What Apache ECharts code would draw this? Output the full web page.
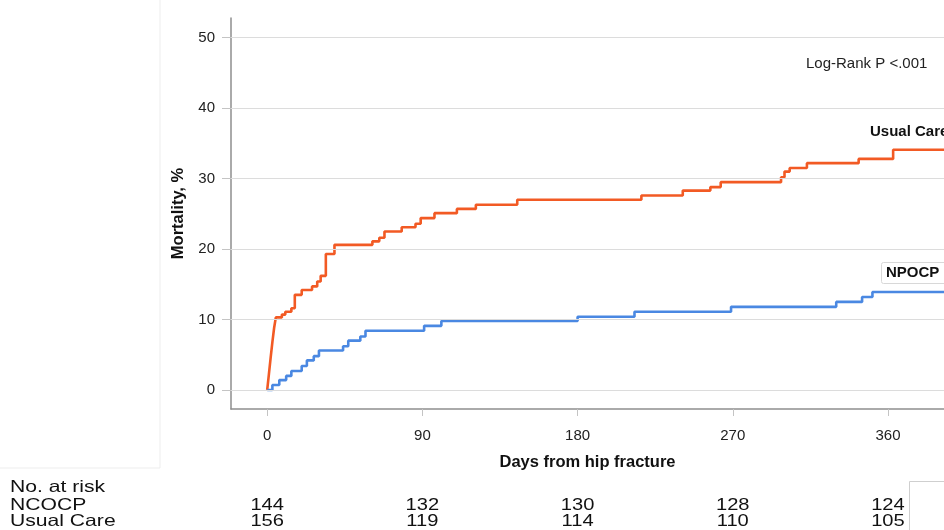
<!DOCTYPE html>
<html>
<head>
<meta charset="utf-8">
<script src="https://cdn.jsdelivr.net/npm/echarts@6/dist/echarts.min.js"></script>
<style>
html,body{margin:0;padding:0;background:#fff;}
#chart{width:944px;height:530px;}
</style>
</head>
<body>
<div id="chart"></div>
<script>
// ---- data ----
const usualDays = [0, 1, 2, 3, 4, 5, 8.5, 10.5, 14, 16, 20, 26, 29, 31, 34, 39, 61, 65, 68, 78, 86, 89, 97, 110, 121, 145, 217, 241, 257, 263, 298, 300, 303, 313, 343, 363, 400];
const usualVals = [0, 2.3, 4.6, 6.8, 8.8, 10.3, 10.7, 11.1, 11.6, 13.5, 14.2, 14.7, 15.4, 16.2, 19.3, 20.6, 21.1, 21.6, 22.5, 23.1, 23.6, 24.4, 25.1, 25.7, 26.3, 27.0, 27.6, 28.3, 28.8, 29.5, 30.2, 31.0, 31.5, 32.2, 32.8, 34.1, 34.1];
const npocpDays = [0, 3, 7, 11, 14, 20, 23, 27, 30, 44, 47, 54, 57, 91, 101, 180, 213, 269, 330, 345, 351, 400];
const npocpVals = [0, 0.7, 1.4, 2.0, 2.7, 3.4, 4.2, 4.8, 5.6, 6.2, 7.0, 7.6, 8.4, 9.1, 9.8, 10.4, 11.1, 11.8, 12.5, 13.2, 13.9, 13.9];
const xTicks = [0, 90, 180, 270, 360];
const yTicks = [0, 10, 20, 30, 40, 50];
const riskNPOCP = [144, 132, 130, 128, 124];
const riskUsual = [156, 119, 114, 110, 105];
const riskRowLabels = ['No. at risk', 'NCOCP', 'Usual Care'];

const FONT = '"Liberation Sans", Arial, sans-serif';
const chart = echarts.init(document.getElementById('chart'), null, {renderer: 'canvas'});

const toPairs = (xs, ys) => xs.map((x, i) => [x, ys[i]]);

chart.setOption({
  animation: false,
  backgroundColor: '#fff',
  grid: {left: 231, top: 18, right: 0, bottom: 121, outerBoundsMode: 'none', containLabel: false},
  xAxis: {
    type: 'value', min: -21, max: 392.5,
    axisLine: {show: true, onZero: false, lineStyle: {color: '#8e8e8e', width: 1.5}},
    axisTick: {show: true, customValues: xTicks, length: 7, lineStyle: {color: '#c4c4c4', width: 1}},
    axisLabel: {customValues: xTicks, margin: 19, fontSize: 15, color: '#222', fontFamily: FONT},
    splitLine: {show: false},
    name: 'Days from hip fracture', nameLocation: 'middle', nameGap: 45,
    nameTextStyle: {fontSize: 16.5, fontWeight: 'bold', color: '#111', fontFamily: FONT}
  },
  yAxis: {
    type: 'value', min: -2.7, max: 52.8,
    axisLine: {show: true, onZero: false, lineStyle: {color: '#8e8e8e', width: 1.5}},
    axisTick: {show: true, customValues: yTicks, length: 9, lineStyle: {color: '#c4c4c4', width: 1}},
    axisLabel: {customValues: yTicks, margin: 16, fontSize: 15, color: '#222', fontFamily: FONT},
    splitLine: {show: false},
    name: 'Mortality, %', nameLocation: 'middle', nameGap: 43, nameRotate: 90,
    nameTextStyle: {fontSize: 16.5, fontWeight: 'bold', color: '#111', fontFamily: FONT}
  },
  series: [
    {
      type: 'line', data: [], silent: true, z: 1,
      markLine: {
        silent: true, symbol: 'none', label: {show: false}, animation: false,
        lineStyle: {color: '#dcdcdc', width: 1.2, type: 'solid'},
        data: yTicks.map(v => ({yAxis: v}))
      }
    },
    {
      name: 'Usual Care', type: 'line', step: 'end', symbol: 'none', z: 3,
      lineStyle: {color: '#f25a24', width: 2.6}, itemStyle: {color: '#f25a24'},
      data: toPairs(usualDays, usualVals)
    },
    {
      name: 'NPOCP', type: 'line', step: 'end', symbol: 'none', z: 3,
      lineStyle: {color: '#4a88e2', width: 2.6}, itemStyle: {color: '#4a88e2'},
      data: toPairs(npocpDays, npocpVals)
    }
  ]
});

// annotations and number-at-risk table
const g = [];
g.push({type: 'line', shape: {x1: 160, y1: 0, x2: 160, y2: 468}, style: {stroke: '#ededed', lineWidth: 1}, silent: true});
g.push({type: 'line', shape: {x1: 0, y1: 468, x2: 160, y2: 468}, style: {stroke: '#ededed', lineWidth: 1}, silent: true});
g.push({type: 'line', shape: {x1: 909.5, y1: 481.5, x2: 909.5, y2: 530}, style: {stroke: '#cfcfcf', lineWidth: 1}, silent: true});
g.push({type: 'line', shape: {x1: 909.5, y1: 481.5, x2: 944, y2: 481.5}, style: {stroke: '#cfcfcf', lineWidth: 1}, silent: true});

g.push({type: 'text', x: 806, y: 64, style: {text: 'Log-Rank P <.001', font: '15px ' + FONT, fill: '#222', verticalAlign: 'middle'}, silent: true});
g.push({type: 'text', x: 870, y: 132, style: {text: 'Usual Care', font: 'bold 15px ' + FONT, fill: '#111', verticalAlign: 'middle'}, silent: true});
g.push({type: 'rect', shape: {x: 881.5, y: 262.5, width: 70, height: 21, r: 2}, style: {fill: '#fff', stroke: '#d8d8d8', lineWidth: 1}, z: 10, silent: true});
g.push({type: 'text', x: 886, y: 273, z: 11, style: {text: 'NPOCP', font: 'bold 15px ' + FONT, fill: '#111', verticalAlign: 'middle'}, silent: true});

const rowY = [487, 505, 521.5];
riskRowLabels.forEach((t, i) => {
  g.push({type: 'text', x: 10, y: rowY[i], scaleX: 1.28, style: {text: t, font: '16.5px ' + FONT, fill: '#111', align: 'left', verticalAlign: 'middle'}, silent: true});
});
xTicks.forEach((d, i) => {
  const px = chart.convertToPixel({xAxisIndex: 0}, d);
  g.push({type: 'text', x: px, y: rowY[1], scaleX: 1.22, style: {text: String(riskNPOCP[i]), font: '16.5px ' + FONT, fill: '#111', align: 'center', verticalAlign: 'middle'}, silent: true});
  g.push({type: 'text', x: px, y: rowY[2], scaleX: 1.22, style: {text: String(riskUsual[i]), font: '16.5px ' + FONT, fill: '#111', align: 'center', verticalAlign: 'middle'}, silent: true});
});
chart.setOption({graphic: g});
</script>
</body>
</html>
